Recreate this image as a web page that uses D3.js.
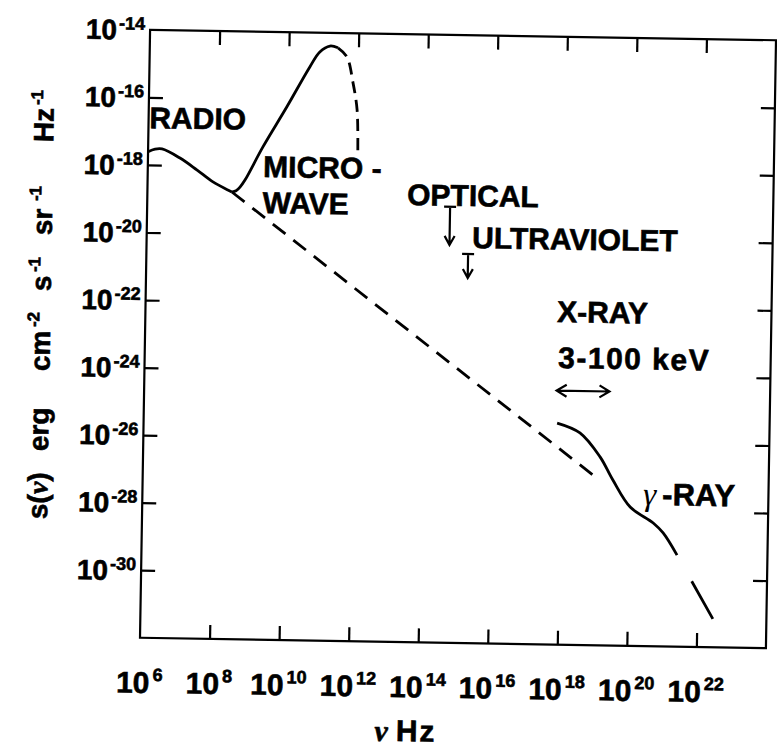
<!DOCTYPE html>
<html>
<head>
<meta charset="utf-8">
<script src="https://cdn.jsdelivr.net/npm/d3@7"></script>
<style>
  body { margin: 0; background: #fff; }
  svg { display: block; }
  text { font-family: "Liberation Sans", Arial, Helvetica, sans-serif; font-weight: bold; fill: #000;
         stroke: #000; stroke-width: 0.6px; }
</style>
</head>
<body>
<div id="chart"></div>
<script>
// all values are log10: [log10 nu (Hz), log10 s (erg cm^-2 s^-1 sr^-1 Hz^-1)]
var xTickExp = [6, 8, 10, 12, 14, 16, 18, 20, 22];
var yTickExp = [-14, -16, -18, -20, -22, -24, -26, -28, -30];

var radio = [[6.0, -17.61], [6.2, -17.53], [6.4, -17.52], [6.92, -17.78], [7.41, -18.12],
             [7.88, -18.47], [8.37, -18.73], [8.43, -18.76]];
var microwave = [[8.43, -18.76], [8.55, -18.72], [8.66, -18.61], [8.80, -18.40], [9.30, -17.41],
                 [9.97, -16.21], [10.61, -15.02], [10.89, -14.57], [11.18, -14.39], [11.41, -14.44]];
var microwaveCutoff = [[11.41, -14.44], [11.67, -14.70], [11.86, -15.47], [11.99, -16.27], [12.03, -17.54]];
var powerLaw = [[8.43, -18.76], [19.06, -27.05]];
var xGamma = [[17.89, -25.44], [18.55, -25.72], [19.14, -26.42], [19.52, -27.10], [20.03, -27.89],
              [20.70, -28.35], [20.99, -28.64], [21.40, -29.29]];
var gammaTail = [[21.40, -29.29], [22.46, -31.16]];
// upper limits: [log nu, log s at bar, log s at arrow tip]
var upperLimits = [[14.71, -19.09, -20.22], [15.25, -20.48, -21.19]];
// 3 - 100 keV band
var xrayBand = [17.86, 19.38];
var xrayBandLevel = -24.48;

var labels = [
  { text: "RADIO", lx: 6.02, ly: -16.91 },
  { text: "MICRO -", lx: 9.32, ly: -18.30 },
  { text: "WAVE", lx: 9.32, ly: -19.37 },
  { text: "OPTICAL", lx: 13.47, ly: -19.06 },
  { text: "ULTRAVIOLET", lx: 15.36, ly: -20.30 },
  { text: "X-RAY", lx: 17.84, ly: -22.45 },
  { text: "3-100 keV", lx: 17.89, ly: -23.81 }
];

var width = 777, height = 750;
var svg = d3.select("#chart").append("svg")
    .attr("width", width)
    .attr("height", height);

// the scanned figure is slightly rotated
var g = svg.append("g").attr("transform", "rotate(0.95,458,339)");

var x = d3.scaleLog().domain([1e6, 1e24]).range([145, 771]);
var y = d3.scaleLog().domain([1e-32, 1e-14]).range([643, 35]);
function X(e) { return x(Math.pow(10, e)); }
function Y(e) { return y(Math.pow(10, e)); }

var line = d3.line()
    .x(function(d) { return X(d[0]); })
    .y(function(d) { return Y(d[1]); })
    .curve(d3.curveCatmullRom.alpha(0.5));

// frame
g.append("rect")
    .attr("x", x.range()[0]).attr("y", y.range()[1])
    .attr("width", x.range()[1] - x.range()[0])
    .attr("height", y.range()[0] - y.range()[1])
    .attr("fill", "none").attr("stroke", "#000").attr("stroke-width", 2.2);

var xTickVals = xTickExp.slice(1).map(function(e) { return Math.pow(10, e); });
var yTickVals = yTickExp.slice(1).map(function(e) { return Math.pow(10, e); });

function ticks(axis, tr) {
  var a = g.append("g").attr("transform", tr)
      .call(axis.tickSizeInner(-14).tickSizeOuter(0).tickFormat(""));
  a.select(".domain").remove();
  a.selectAll("line").attr("stroke", "#000").attr("stroke-width", 2.2);
}
ticks(d3.axisBottom(x).tickValues(xTickVals), "translate(0,643)");
ticks(d3.axisTop(x).tickValues(xTickVals), "translate(0,35)");
ticks(d3.axisLeft(y).tickValues(yTickVals), "translate(145,0)");
ticks(d3.axisRight(y).tickValues(yTickVals), "translate(771,0)");

// tick labels
var yl = g.selectAll(".ylab").data(yTickExp).enter().append("text")
    .attr("class", "ylab")
    .attr("x", 140)
    .attr("y", function(d) { return Y(d) + 10; })
    .attr("text-anchor", "end");
yl.append("tspan").attr("font-size", 28).text("10");
yl.append("tspan").attr("font-size", 18).attr("dx", 2).attr("dy", -10)
    .text(function(d) { return "-" + Math.abs(d); });

var xl = g.selectAll(".xlab").data(xTickExp).enter().append("text")
    .attr("class", "xlab")
    .attr("x", function(d) { return X(d); })
    .attr("y", 698)
    .attr("text-anchor", "middle");
xl.append("tspan").attr("font-size", 30).text("10");
xl.append("tspan").attr("font-size", 18).attr("dx", 3).attr("dy", -12)
    .text(function(d) { return d; });

// axis titles
var xt = g.append("text").attr("x", 412).attr("y", 742).attr("text-anchor", "middle")
    .attr("font-size", 30);
xt.append("tspan").attr("font-family", "'Liberation Serif', serif").attr("font-style", "italic").text("\u03bd");
xt.append("tspan").attr("dx", 8).attr("letter-spacing", 2).text("Hz");

var yt = g.append("text").attr("transform", "translate(50,526) rotate(-90)").attr("font-size", 28);
var parts = [
  { t: "s(", at: 0 }, { t: "\u03bd", serif: true }, { t: ")" },
  { t: "erg", at: 68 }, { t: "cm", at: 148 }, { t: "-2", at: 192, sup: true },
  { t: "s", at: 228 }, { t: "-1", at: 247, sup: true },
  { t: "sr", at: 284 }, { t: "-1", at: 318, sup: true },
  { t: "Hz", at: 377 }, { t: "-1", at: 414, sup: true }
];
parts.forEach(function(p) {
  var ts = yt.append("tspan").text(p.t);
  if (p.at !== undefined) ts.attr("x", p.at).attr("y", p.sup ? -11 : 0);
  if (p.sup) ts.attr("font-size", 17);
  if (p.serif) ts.attr("font-family", "'Liberation Serif', serif").attr("font-style", "italic");
});

// curves
function draw(data, dash) {
  g.append("path").datum(data).attr("d", line)
      .attr("fill", "none").attr("stroke", "#000").attr("stroke-width", 2.8)
      .attr("stroke-dasharray", dash || null);
}
draw(radio);
draw(microwave);
draw(microwaveCutoff, "12,7");
draw(powerLaw, "16,10");
draw(xGamma);
draw(gammaTail, "0,30,44,200");

// upper limits (optical, UV)
upperLimits.forEach(function(d) {
  var cx = X(d[0]), y0 = Y(d[1]), y1 = Y(d[2]);
  g.append("path")
      .attr("d", "M" + (cx - 6) + "," + y0 + "H" + (cx + 6) + "M" + cx + "," + y0 + "V" + y1 +
                 "M" + (cx - 5) + "," + (y1 - 9) + "L" + cx + "," + y1 + "L" + (cx + 5) + "," + (y1 - 9))
      .attr("fill", "none").attr("stroke", "#000").attr("stroke-width", 2.2);
});

// X-ray band arrow
var ax0 = X(xrayBand[0]), ax1 = X(xrayBand[1]), ay = Y(xrayBandLevel);
g.append("path")
    .attr("d", "M" + ax0 + "," + ay + "H" + ax1 +
               "M" + (ax0 + 10) + "," + (ay - 6) + "L" + ax0 + "," + ay + "L" + (ax0 + 10) + "," + (ay + 6) +
               "M" + (ax1 - 10) + "," + (ay - 6) + "L" + ax1 + "," + ay + "L" + (ax1 - 10) + "," + (ay + 6))
    .attr("fill", "none").attr("stroke", "#000").attr("stroke-width", 2.2);

// band labels
g.selectAll(".band").data(labels).enter().append("text")
    .attr("class", "band")
    .attr("x", function(d) { return X(d.lx); })
    .attr("y", function(d) { return Y(d.ly); })
    .attr("font-size", 30)
    .attr("letter-spacing", function(d) { return d.text === "3-100 keV" ? 1.5 : null; })
    .attr("xml:space", "preserve")
    .text(function(d) { return d.text; });

var gl = g.append("text").attr("x", X(20.40)).attr("y", Y(-27.82)).attr("font-size", 31);
gl.append("tspan").attr("font-family", "'Liberation Serif', serif").attr("font-style", "italic")
    .attr("font-weight", "normal").attr("stroke-width", 0).attr("font-size", 33).text("\u03b3");
gl.append("tspan").attr("dx", 6).text("-RAY");
</script>
</body>
</html>
